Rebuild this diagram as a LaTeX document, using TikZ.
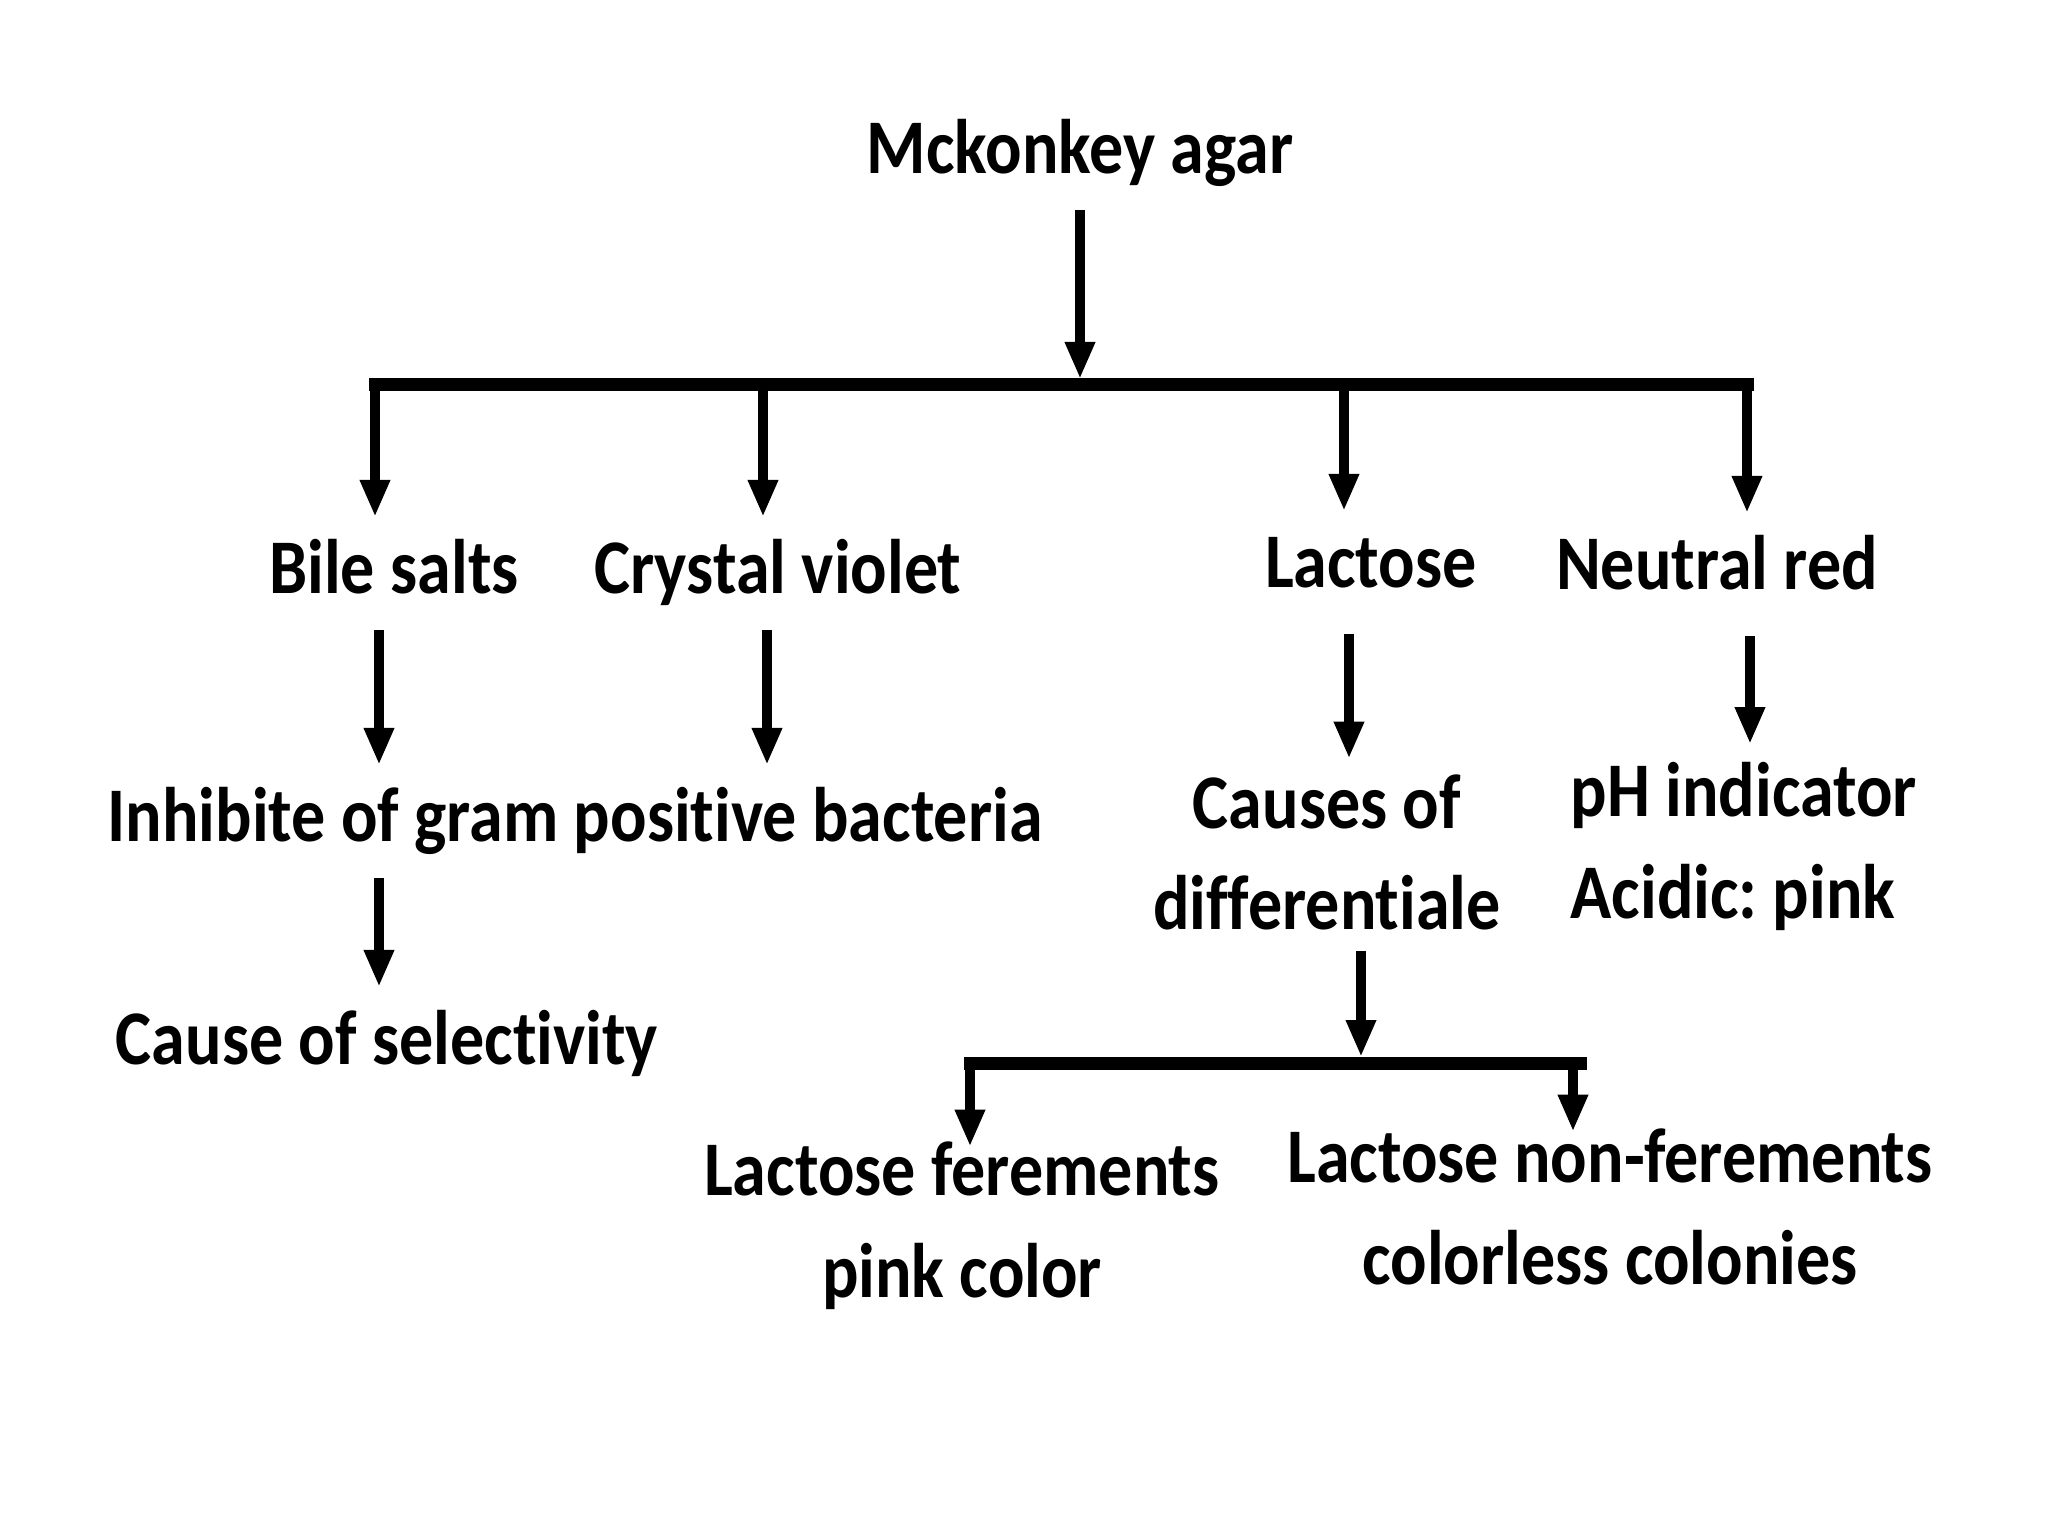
\documentclass[tikz,border=0pt]{standalone}
\usepackage{fontspec}
\setmainfont{Carlito}[FakeStretch=0.88, Ligatures=NoCommon]
\usetikzlibrary{arrows.meta,positioning}
\frenchspacing

\begin{document}
\begin{tikzpicture}[
    term/.style={font=\fontsize{22}{29}\selectfont\bfseries, inner sep=0.5mm, align=center,
                 execute at begin node=\strut, execute at end node=\strut},
    arrow/.style={-{Triangle[width=0.28cm,length=0.37cm]}, line width=0.1cm},
    bar/.style={line width=0.13cm, line cap=rect},
]
\useasboundingbox[fill=white] (0,0) rectangle (20.48,-15.36);

% ---- root and first bar ----
\node[term, anchor=base] (agar) at (10.80,-1.74) {Mckonkey agar};
\coordinate (hub) at (10.80,-3.85);
\coordinate (b1) at (3.75,-3.85);
\coordinate (b2) at (7.63,-3.85);
\coordinate (b3) at (13.44,-3.85);
\coordinate (b4) at (17.47,-3.85);
\draw[bar] (b1) -- (b4);
\draw[arrow, shorten >=0.06cm] (agar.south) -- (hub);

% ---- ingredients ----
\node[term, anchor=base] (bile) at (3.94,-5.94) {Bile salts};
\node[term, anchor=base] (crystal) at (7.78,-5.94) {Crystal violet};
\node[term, anchor=base] (lactose) at (13.71,-5.88) {Lactose};
\node[term, anchor=base] (neutral) at (17.17,-5.90) {Neutral red};
\draw[arrow] (b1) -- (bile.north -| b1);
\draw[arrow] (b2) -- (crystal.north -| b2);
\draw[arrow] (b3) -- (lactose.north -| b3);
\draw[arrow] (b4) -- (neutral.north -| b4);

% ---- effects ----
\coordinate (c1) at (3.79,0);
\coordinate (c2) at (7.67,0);
\coordinate (c3) at (13.49,0);
\coordinate (c4) at (17.50,0);
\node[term, anchor=base] (inhib) at (5.75,-8.42) {Inhibite of gram positive bacteria};
\node[term, anchor=base] (causes) at (13.27,-9.30) {Causes of\\differentiale};
\node[term, anchor=base west, align=left] (ph) at (15.65,-9.18) {pH indicator\\Acidic: pink};
\draw[arrow] (bile.south -| c1) -- (inhib.north -| c1);
\draw[arrow] (crystal.south -| c2) -- (inhib.north -| c2);
\draw[arrow, shorten <=1mm] (lactose.south -| c3) -- ([yshift=1mm]causes.north -| c3);
\draw[arrow, shorten <=1mm] (neutral.south -| c4) -- ([yshift=1.2mm]ph.north -| c4);

\node[term, anchor=base] (select) at (3.87,-10.64) {Cause of selectivity};
\draw[arrow] (inhib.south -| c1) -- (select.north -| c1);

% ---- lactose split ----
\coordinate (hub2) at (13.61,-10.63);
\coordinate (l1) at (9.70,-10.63);
\coordinate (l2) at (15.80,-10.63);
\coordinate (l3) at (15.73,-10.63);
\draw[bar] (l1) -- (l2);
\draw[arrow, shorten <=-1.5mm, shorten >=0.06cm] (causes.south -| hub2) -- (hub2);

\node[term, anchor=base] (lfer) at (9.62,-12.97) {Lactose ferements\\pink color};
\node[term, anchor=base] (lnon) at (16.10,-12.84) {Lactose non-ferements\\colorless colonies};
\draw[arrow] (l1) -- ([yshift=-1.1mm]lfer.north -| l1);
\draw[arrow] (l3) -- ([yshift=-0.9mm]lnon.north -| l3);

\end{tikzpicture}
\end{document}
